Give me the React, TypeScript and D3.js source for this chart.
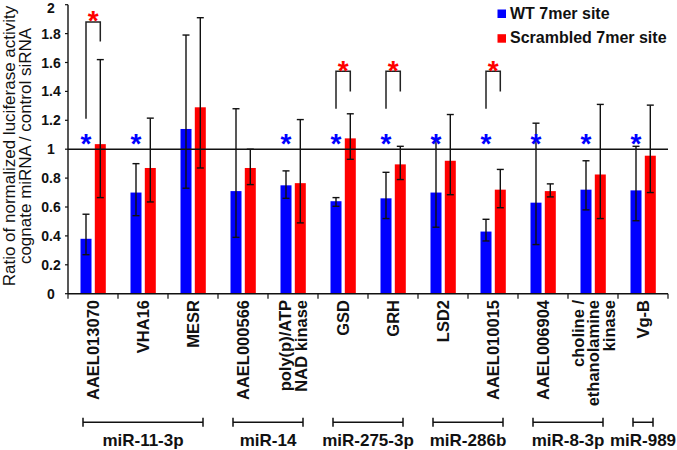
import React from "react";
import * as d3 from "d3";

const categories: string[][] = [
  ["AAEL013070"], ["VHA16"], ["MESR"], ["AAEL000566"], ["poly(p)/ATP", "NAD kinase"],
  ["GSD"], ["GRH"], ["LSD2"], ["AAEL010015"], ["AAEL006904"],
  ["choline /", "ethanolamine", "kinase"], ["Vg-B"],
];
const wtMean = [0.38, 0.70, 1.14, 0.71, 0.75, 0.64, 0.66, 0.70, 0.43, 0.63, 0.72, 0.715];
const wtUpper = [0.55, 0.90, 1.79, 1.28, 0.85, 0.665, 0.84, 1.07, 0.515, 1.18, 0.92, 1.02];
const wtLower = [0.27, 0.54, 0.73, 0.39, 0.66, 0.605, 0.52, 0.46, 0.365, 0.34, 0.58, 0.505];
const scrMean = [1.035, 0.87, 1.29, 0.87, 0.765, 1.075, 0.895, 0.92, 0.72, 0.71, 0.825, 0.955];
const scrUpper = [1.62, 1.215, 1.91, 1.0, 1.205, 1.245, 1.02, 1.24, 0.86, 0.76, 1.31, 1.305];
const scrLower = [0.665, 0.635, 0.87, 0.755, 0.49, 0.93, 0.79, 0.685, 0.595, 0.67, 0.52, 0.70];
const wtSig = [true, true, false, false, true, true, true, true, true, true, true, true];
const wtStarLevel = 1.08;
// bracket comparisons: category index, top, left bottom, right bottom, star level
const bracketCats = [0, 5, 6, 8];
const bracketTop = [1.88, 1.54, 1.54, 1.54];
const bracketLeftBottom = [1.21, 1.28, 1.28, 1.28];
const bracketRightBottom = [1.745, 1.40, 1.40, 1.40];
const bracketStar = [1.93, 1.59, 1.59, 1.59];
const groupNames = ["miR-11-3p", "miR-14", "miR-275-3p", "miR-286b", "miR-8-3p", "miR-989"];
const groupStart = [0, 3, 5, 7, 9, 11];
const groupEnd = [2, 4, 6, 8, 10, 11];
const yTicks = [0, 0.2, 0.4, 0.6, 0.8, 1, 1.2, 1.4, 1.6, 1.8, 2];
const seriesNames = ["WT 7mer site", "Scrambled 7mer site"];
const seriesColors = ["#0000ff", "#ff0000"];

const FONT = "'Liberation Sans', Arial, sans-serif";

export default function App() {
  const W = 677, H = 450;
  const left = 68, right = 668, top = 4.7, bottom = 293.7;
  const x = d3.scaleBand<number>().domain(categories.map((_, i) => i)).range([left, right]).padding(0);
  const y = d3.scaleLinear().domain([0, 2]).range([bottom, top]);
  const bw = 11;
  const bwCenter = (i: number) => (x(i) as number) + x.bandwidth() / 2;
  const blueC = (i: number) => bwCenter(i) - 7;
  const redC = (i: number) => bwCenter(i) + 7.3;
  const capW = 7;
  const starFs = 28;
  const starOff = 0.56 * starFs;

  const errBar = (cx: number, lo: number, hi: number, key: string) => (
    <g key={key} stroke="#111" strokeWidth={1.4}>
      <line x1={cx} x2={cx} y1={y(lo)} y2={y(hi)} />
      <line x1={cx - capW / 2} x2={cx + capW / 2} y1={y(lo)} y2={y(lo)} />
      <line x1={cx - capW / 2} x2={cx + capW / 2} y1={y(hi)} y2={y(hi)} />
    </g>
  );

  return (
    <div style={{ position: "fixed", left: 0, top: 0 }}>
      <svg width={W} height={H} style={{ display: "block", background: "#fff" }} fontFamily={FONT}>
        {/* y axis title */}
        <text transform={`translate(14.5,146) rotate(-90)`} textAnchor="middle" fontSize={17} fill="#111">
          Ratio of normalized luciferase activity
        </text>
        <text transform={`translate(30.5,146) rotate(-90)`} textAnchor="middle" fontSize={17} fill="#111">
          cognate miRNA / control siRNA
        </text>
        {/* y ticks */}
        {yTicks.map((t) => (
          <g key={"yt" + t}>
            <line x1={left - 3} x2={left} y1={y(t)} y2={y(t)} stroke="#111" strokeWidth={1.2} />
            <text x={51} y={Math.max(y(t) + 5, 12.5)} textAnchor="middle" fontSize={14} fontWeight="bold" fill="#111">
              {String(t)}
            </text>
          </g>
        ))}
        {/* bars */}
        {categories.map((_, i) => (
          <g key={"b" + i}>
            <rect x={blueC(i) - bw / 2} y={y(wtMean[i])} width={bw} height={y(0) - y(wtMean[i])} fill={seriesColors[0]} />
            <rect x={redC(i) - bw / 2} y={y(scrMean[i])} width={bw} height={y(0) - y(scrMean[i])} fill={seriesColors[1]} />
          </g>
        ))}
        {/* reference line at 1 */}
        <line x1={left} x2={right} y1={y(1)} y2={y(1)} stroke="#111" strokeWidth={1.4} />
        {/* error bars */}
        {categories.map((_, i) => errBar(blueC(i), wtLower[i], wtUpper[i], "eb" + i))}
        {categories.map((_, i) => errBar(redC(i), scrLower[i], scrUpper[i], "er" + i))}
        {/* axes */}
        <line x1={left} x2={left} y1={y(2)} y2={y(0)} stroke="#111" strokeWidth={1.4} />
        <line x1={left} x2={right} y1={y(0)} y2={y(0)} stroke="#111" strokeWidth={1.4} />
        {categories.map((_, i) => (
          <line key={"xt" + i} x1={x(i) as number} x2={x(i) as number} y1={y(0)} y2={y(0) + 5} stroke="#111" strokeWidth={1.2} />
        ))}
        <line x1={right} x2={right} y1={y(0)} y2={y(0) + 5} stroke="#111" strokeWidth={1.2} />
        {/* blue stars */}
        {categories.map((_, i) =>
          wtSig[i] ? (
            <text key={"bs" + i} x={blueC(i)} y={y(wtStarLevel) + starOff} textAnchor="middle" fontSize={starFs} fontWeight="bold" fill={seriesColors[0]}>
              *
            </text>
          ) : null
        )}
        {/* brackets */}
        {bracketCats.map((c, k) => (
          <g key={"br" + k}>
            <path
              d={`M${blueC(c)},${y(bracketLeftBottom[k])}V${y(bracketTop[k])}H${redC(c)}V${y(bracketRightBottom[k])}`}
              fill="none" stroke="#222" strokeWidth={1.5}
            />
            <text x={(blueC(c) + redC(c)) / 2} y={y(bracketStar[k]) + starOff} textAnchor="middle" fontSize={starFs} fontWeight="bold" fill={seriesColors[1]}>
              *
            </text>
          </g>
        ))}
        {/* x labels */}
        {categories.map((lines, i) => {
          const n = lines.length;
          const sp = 15.5;
          return lines.map((ln, j) => {
            const bx = bwCenter(i) + 6 + (j - (n - 1) / 2) * sp;
            return (
              <text key={"xl" + i + "_" + j} transform={`translate(${bx},300) rotate(-90)`} textAnchor="end" fontSize={16.5} fontWeight="bold" fill="#111">
                {ln}
              </text>
            );
          });
        })}
        {/* group brackets */}
        {groupNames.map((g, k) => {
          const x1 = (x(groupStart[k]) as number) + 15;
          const x2 = (x(groupEnd[k]) as number) + x.bandwidth() - 15;
          const by = 422.3;
          return (
            <g key={"g" + k}>
              <path d={`M${x1},${by - 4.5}V${by + 4.5}M${x1},${by}H${x2}M${x2},${by - 4.5}V${by + 4.5}`} stroke="#111" strokeWidth={1.5} fill="none" />
              <text x={(x1 + x2) / 2} y={445.5} textAnchor="middle" fontSize={17} fontWeight="bold" fill="#111">
                {g}
              </text>
            </g>
          );
        })}
        {/* legend */}
        {seriesNames.map((s, k) => (
          <g key={"lg" + k}>
            <rect x={497.5} y={9.5 + k * 24.7} width={8.5} height={8.5} fill={seriesColors[k]} />
            <text x={510} y={18.5 + k * 24.7} fontSize={16} fontWeight="bold" fill="#111">
              {s}
            </text>
          </g>
        ))}
      </svg>
    </div>
  );
}
